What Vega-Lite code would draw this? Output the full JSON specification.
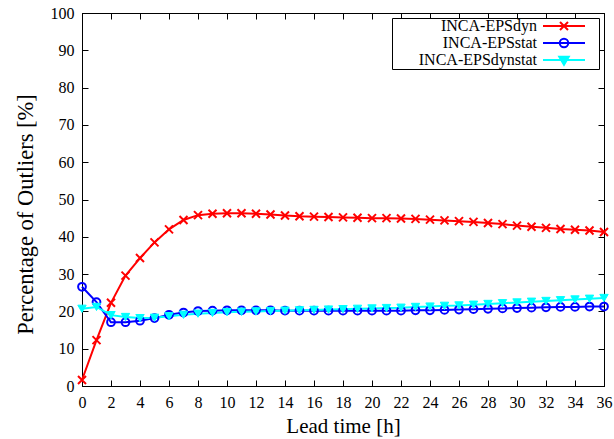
{
  "$schema": "https://vega.github.io/schema/vega-lite/v6.json",
  "width": 522,
  "height": 373,
  "autosize": {"type": "none"},
  "padding": {"left": 82, "top": 13, "right": 10, "bottom": 53},
  "background": "white",
  "config": {
    "font": "Liberation Serif",
    "view": {"stroke": "black", "strokeWidth": 1},
    "axis": {
      "grid": false,
      "domainColor": "black",
      "tickColor": "black",
      "labelColor": "black",
      "titleColor": "black",
      "labelFont": "Liberation Serif",
      "titleFont": "Liberation Serif",
      "labelFontSize": 16,
      "titleFontSize": 21,
      "titleFontWeight": "normal",
      "tickSize": -6,
      "labelPadding": 14,
      "labelFlush": false,
      "labelOverlap": false
    },
    "legend": {
      "labelFont": "Liberation Serif"
    }
  },
  "data": {
    "values": [
      {"t": 0, "INCA-EPSdyn": 1.6, "INCA-EPSstat": 26.6, "INCA-EPSdynstat": 20.7},
      {"t": 1, "INCA-EPSdyn": 12.3, "INCA-EPSstat": 22.5, "INCA-EPSdynstat": 21.2},
      {"t": 2, "INCA-EPSdyn": 22.3, "INCA-EPSstat": 17.1, "INCA-EPSdynstat": 19.0},
      {"t": 3, "INCA-EPSdyn": 29.6, "INCA-EPSstat": 17.1, "INCA-EPSdynstat": 18.5},
      {"t": 4, "INCA-EPSdyn": 34.3, "INCA-EPSstat": 17.5, "INCA-EPSdynstat": 18.2},
      {"t": 5, "INCA-EPSdyn": 38.5, "INCA-EPSstat": 18.2, "INCA-EPSdynstat": 18.3},
      {"t": 6, "INCA-EPSdyn": 42.0, "INCA-EPSstat": 19.1, "INCA-EPSdynstat": 18.7},
      {"t": 7, "INCA-EPSdyn": 44.5, "INCA-EPSstat": 19.7, "INCA-EPSdynstat": 19.1},
      {"t": 8, "INCA-EPSdyn": 45.8, "INCA-EPSstat": 20.1, "INCA-EPSdynstat": 19.4},
      {"t": 9, "INCA-EPSdyn": 46.2, "INCA-EPSstat": 20.2, "INCA-EPSdynstat": 19.6},
      {"t": 10, "INCA-EPSdyn": 46.3, "INCA-EPSstat": 20.3, "INCA-EPSdynstat": 19.8},
      {"t": 11, "INCA-EPSdyn": 46.3, "INCA-EPSstat": 20.3, "INCA-EPSdynstat": 19.9},
      {"t": 12, "INCA-EPSdyn": 46.2, "INCA-EPSstat": 20.3, "INCA-EPSdynstat": 20.0},
      {"t": 13, "INCA-EPSdyn": 46.0, "INCA-EPSstat": 20.3, "INCA-EPSdynstat": 20.1},
      {"t": 14, "INCA-EPSdyn": 45.7, "INCA-EPSstat": 20.2, "INCA-EPSdynstat": 20.2},
      {"t": 15, "INCA-EPSdyn": 45.5, "INCA-EPSstat": 20.2, "INCA-EPSdynstat": 20.3},
      {"t": 16, "INCA-EPSdyn": 45.4, "INCA-EPSstat": 20.2, "INCA-EPSdynstat": 20.4},
      {"t": 17, "INCA-EPSdyn": 45.3, "INCA-EPSstat": 20.2, "INCA-EPSdynstat": 20.5},
      {"t": 18, "INCA-EPSdyn": 45.2, "INCA-EPSstat": 20.2, "INCA-EPSdynstat": 20.6},
      {"t": 19, "INCA-EPSdyn": 45.1, "INCA-EPSstat": 20.2, "INCA-EPSdynstat": 20.7},
      {"t": 20, "INCA-EPSdyn": 45.0, "INCA-EPSstat": 20.2, "INCA-EPSdynstat": 20.8},
      {"t": 21, "INCA-EPSdyn": 45.0, "INCA-EPSstat": 20.2, "INCA-EPSdynstat": 20.9},
      {"t": 22, "INCA-EPSdyn": 44.9, "INCA-EPSstat": 20.2, "INCA-EPSdynstat": 21.0},
      {"t": 23, "INCA-EPSdyn": 44.8, "INCA-EPSstat": 20.3, "INCA-EPSdynstat": 21.2},
      {"t": 24, "INCA-EPSdyn": 44.6, "INCA-EPSstat": 20.3, "INCA-EPSdynstat": 21.3},
      {"t": 25, "INCA-EPSdyn": 44.4, "INCA-EPSstat": 20.4, "INCA-EPSdynstat": 21.5},
      {"t": 26, "INCA-EPSdyn": 44.2, "INCA-EPSstat": 20.5, "INCA-EPSdynstat": 21.6},
      {"t": 27, "INCA-EPSdyn": 44.0, "INCA-EPSstat": 20.6, "INCA-EPSdynstat": 21.8},
      {"t": 28, "INCA-EPSdyn": 43.7, "INCA-EPSstat": 20.7, "INCA-EPSdynstat": 22.0},
      {"t": 29, "INCA-EPSdyn": 43.4, "INCA-EPSstat": 20.8, "INCA-EPSdynstat": 22.2},
      {"t": 30, "INCA-EPSdyn": 43.0, "INCA-EPSstat": 20.9, "INCA-EPSdynstat": 22.4},
      {"t": 31, "INCA-EPSdyn": 42.7, "INCA-EPSstat": 21.0, "INCA-EPSdynstat": 22.6},
      {"t": 32, "INCA-EPSdyn": 42.4, "INCA-EPSstat": 21.1, "INCA-EPSdynstat": 22.8},
      {"t": 33, "INCA-EPSdyn": 42.1, "INCA-EPSstat": 21.2, "INCA-EPSdynstat": 23.0},
      {"t": 34, "INCA-EPSdyn": 41.9, "INCA-EPSstat": 21.2, "INCA-EPSdynstat": 23.2},
      {"t": 35, "INCA-EPSdyn": 41.7, "INCA-EPSstat": 21.3, "INCA-EPSdynstat": 23.4},
      {"t": 36, "INCA-EPSdyn": 41.3, "INCA-EPSstat": 21.3, "INCA-EPSdynstat": 23.6}
    ]
  },
  "transform": [
    {"fold": ["INCA-EPSdyn", "INCA-EPSstat", "INCA-EPSdynstat"], "as": ["series", "value"]}
  ],
  "layer": [
    {
      "mark": {"type": "line", "strokeWidth": 2},
      "encoding": {
        "x": {
          "field": "t", "type": "quantitative",
          "scale": {"domain": [0, 36], "nice": false, "zero": false},
          "axis": {"orient": "bottom", "values": [0,2,4,6,8,10,12,14,16,18,20,22,24,26,28,30,32,34,36], "title": "Lead time [h]", "titlePadding": 5, "labelFont": "Liberation Serif", "titleFont": "Liberation Serif"}
        },
        "y": {
          "field": "value", "type": "quantitative",
          "scale": {"domain": [0, 100], "nice": false},
          "axis": {"orient": "left", "values": [0,10,20,30,40,50,60,70,80,90,100], "title": "Percentage of Outliers [%]", "titlePadding": 13, "titleFontSize": 22.5, "titleY": 201, "labelFont": "Liberation Serif", "titleFont": "Liberation Serif"}
        },
        "stroke": {
          "field": "series", "type": "nominal",
          "scale": {"domain": ["INCA-EPSdyn", "INCA-EPSstat", "INCA-EPSdynstat"], "range": ["#ff0000", "#0000ff", "#00ffff"]},
          "legend": {
            "orient": "none",
            "legendX": 310,
            "legendY": 5,
            "title": null,
            "padding": 0,
            "strokeColor": "black",
            "fillColor": "white",
            "cornerRadius": 0,
            "rowPadding": 0,
            "labelFont": "Liberation Serif",
            "labelFontSize": 16,
            "labelColor": "black",
            "labelAlign": "right",
            "symbolSize": 100,
            "encode": {
              "symbols": {
                "update": {
                  "x": {"value": 172},
                  "shape": {"signal": "datum.value === 'INCA-EPSdyn' ? 'M-4.2,0L4.2,0M-0.8,-0.8L0.8,0.8M-0.8,0.8L0.8,-0.8M6.2,0' : datum.value === 'INCA-EPSstat' ? 'M-4.2,0L4.2,0M0.85,0A0.85,0.85,0,1,1,-0.85,0A0.85,0.85,0,1,1,0.85,0M6.2,0' : 'M-4.2,0L4.2,0M-0.95,-0.65L0.95,-0.65L0,0.95ZM6.2,0'"},
                  "fill": {"signal": "datum.value === 'INCA-EPSdynstat' ? '#00ffff' : 'transparent'"},
                  "strokeWidth": {"value": 2},
                  "opacity": {"value": 1}
                }
              },
              "labels": {
                "update": {
                  "x": {"value": 145},
                  "align": {"value": "right"}
                }
              }
            }
          }
        }
      }
    },
    {
      "transform": [{"filter": "datum.series === 'INCA-EPSdyn'"}],
      "mark": {"type": "point", "strokeWidth": 2, "size": 64, "opacity": 1, "shape": "M-1,-1L1,1M-1,1L1,-1", "filled": false},
      "encoding": {
        "x": {
          "field": "t", "type": "quantitative",
          "axis": {"orient": "top", "values": [0,2,4,6,8,10,12,14,16,18,20,22,24,26,28,30,32,34,36], "labels": false, "title": null}
        },
        "y": {
          "field": "value", "type": "quantitative",
          "axis": {"orient": "right", "values": [0,10,20,30,40,50,60,70,80,90,100], "labels": false, "title": null}
        },
        "stroke": {"field": "series", "type": "nominal"}
      }
    },
    {
      "transform": [{"filter": "datum.series === 'INCA-EPSstat'"}],
      "mark": {"type": "point", "strokeWidth": 2, "size": 60, "opacity": 1, "shape": "circle", "filled": false},
      "encoding": {
        "x": {"field": "t", "type": "quantitative", "axis": null},
        "y": {"field": "value", "type": "quantitative", "axis": null},
        "stroke": {"field": "series", "type": "nominal"}
      }
    },
    {
      "transform": [{"filter": "datum.series === 'INCA-EPSdynstat'"}],
      "mark": {"type": "point", "strokeWidth": 1, "size": 70, "opacity": 1, "shape": "triangle-down", "filled": true, "fill": "#00ffff"},
      "encoding": {
        "x": {"field": "t", "type": "quantitative", "axis": null},
        "y": {"field": "value", "type": "quantitative", "axis": null},
        "stroke": {"field": "series", "type": "nominal"}
      }
    }
  ],
  "resolve": {"axis": {"x": "independent", "y": "independent"}}
}
